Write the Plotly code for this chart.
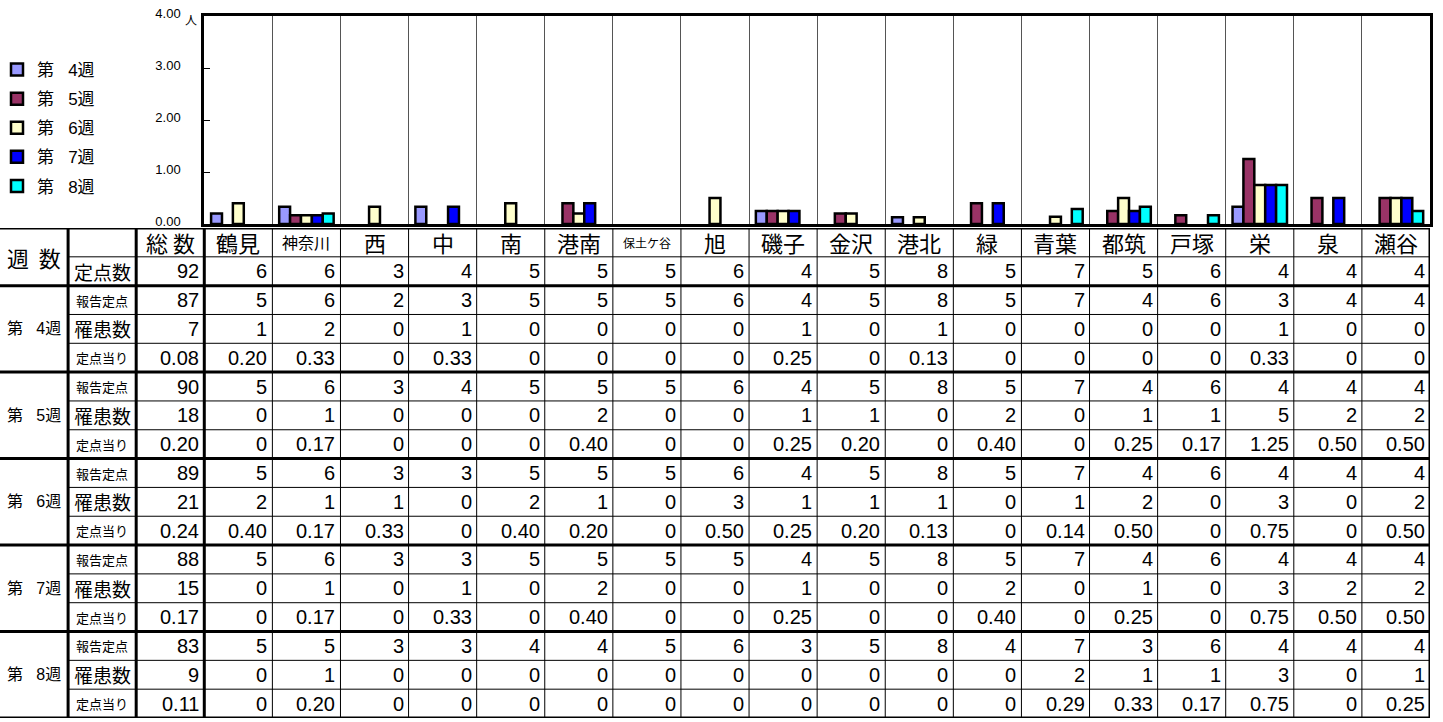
import plotly.graph_objects as go

# ---------------- data ----------------
districts = ["鶴見", "神奈川", "西", "中", "南", "港南", "保土ケ谷", "旭", "磯子",
             "金沢", "港北", "緑", "青葉", "都筑", "戸塚", "栄", "泉", "瀬谷"]
week_numbers = ["4", "5", "6", "7", "8"]
week_colors = ["#9999FF", "#993366", "#FFFFCC", "#0000FF", "#00FFFF"]

total_sites = 92
sites = [6, 6, 3, 4, 5, 5, 5, 6, 4, 5, 8, 5, 7, 5, 6, 4, 4, 4]

reported_total = [87, 90, 89, 88, 83]
reported_w4 = [5, 6, 2, 3, 5, 5, 5, 6, 4, 5, 8, 5, 7, 4, 6, 3, 4, 4]
reported_w5 = [5, 6, 3, 4, 5, 5, 5, 6, 4, 5, 8, 5, 7, 4, 6, 4, 4, 4]
reported_w6 = [5, 6, 3, 3, 5, 5, 5, 6, 4, 5, 8, 5, 7, 4, 6, 4, 4, 4]
reported_w7 = [5, 6, 3, 3, 5, 5, 5, 5, 4, 5, 8, 5, 7, 4, 6, 4, 4, 4]
reported_w8 = [5, 5, 3, 3, 4, 4, 5, 6, 3, 5, 8, 4, 7, 3, 6, 4, 4, 4]

cases_total = [7, 18, 21, 15, 9]
cases_w4 = [1, 2, 0, 1, 0, 0, 0, 0, 1, 0, 1, 0, 0, 0, 0, 1, 0, 0]
cases_w5 = [0, 1, 0, 0, 0, 2, 0, 0, 1, 1, 0, 2, 0, 1, 1, 5, 2, 2]
cases_w6 = [2, 1, 1, 0, 2, 1, 0, 3, 1, 1, 1, 0, 1, 2, 0, 3, 0, 2]
cases_w7 = [0, 1, 0, 1, 0, 2, 0, 0, 1, 0, 0, 2, 0, 1, 0, 3, 2, 2]
cases_w8 = [0, 1, 0, 0, 0, 0, 0, 0, 0, 0, 0, 0, 2, 1, 1, 3, 0, 1]

rate_total = [0.08, 0.20, 0.24, 0.17, 0.11]
rate_w4 = [0.20, 0.33, 0, 0.33, 0, 0, 0, 0, 0.25, 0, 0.13, 0, 0, 0, 0, 0.33, 0, 0]
rate_w5 = [0, 0.17, 0, 0, 0, 0.40, 0, 0, 0.25, 0.20, 0, 0.40, 0, 0.25, 0.17, 1.25, 0.50, 0.50]
rate_w6 = [0.40, 0.17, 0.33, 0, 0.40, 0.20, 0, 0.50, 0.25, 0.20, 0.13, 0, 0.14, 0.50, 0, 0.75, 0, 0.50]
rate_w7 = [0, 0.17, 0, 0.33, 0, 0.40, 0, 0, 0.25, 0, 0, 0.40, 0, 0.25, 0, 0.75, 0.50, 0.50]
rate_w8 = [0, 0.20, 0, 0, 0, 0, 0, 0, 0, 0, 0, 0, 0.29, 0.33, 0.17, 0.75, 0, 0.25]

y_ticks = [0, 1, 2, 3, 4]
y_unit = "人"

reported = [reported_w4, reported_w5, reported_w6, reported_w7, reported_w8]
cases = [cases_w4, cases_w5, cases_w6, cases_w7, cases_w8]
rates = [rate_w4, rate_w5, rate_w6, rate_w7, rate_w8]

# ---------------- geometry ----------------
W, H = 1443, 722
TABLE_RIGHT = 1430
N_COLS = len(districts) + 3
COL_W = TABLE_RIGHT / N_COLS
TABLE_TOP, TABLE_BOTTOM = 228, 718
PLOT_TOP, PLOT_BOTTOM = 16, 224
N_ROWS = 2 + 3 * len(week_numbers)

JP = "Noto Sans CJK JP, sans-serif"
NUM = "Liberation Sans, Arial, Noto Sans CJK JP, sans-serif"
NB = "\u00a0"

fig = go.Figure()
for i in range(len(week_numbers)):
    fig.add_trace(go.Bar(
        x=list(range(len(districts))),
        y=[v if v else None for v in rates[i]],
        name="第" + NB * 3 + week_numbers[i] + "週",
        legendgroup="w%d" % i,
        marker=dict(color=week_colors[i], line=dict(color="black", width=2.5)),
        hoverinfo="skip",
    ))

shapes = []
annotations = []

def hline(r, x0, width):
    shapes.append(dict(type="line", xref="x2", yref="y2", x0=x0, x1=len(districts) - 0.5,
                       y0=r, y1=r, line=dict(color="black", width=width), layer="above"))

def vline(c, width):
    shapes.append(dict(type="line", xref="x2", yref="y2", x0=c, x1=c, y0=0, y1=N_ROWS,
                       line=dict(color="black", width=width), layer="above"))

thick_rows = {0, 2} | {2 + 3 * k for k in range(1, len(week_numbers) + 1)}
for r in range(N_ROWS + 1):
    if r in thick_rows:
        hline(r, -3.5, 3)
    else:
        hline(r, -2.5, 1)
for c in range(-2, len(districts) + 1):
    vline(c - 0.5, 3 if c <= 0 or c == len(districts) else 1)

def text(x, y, s, size, family, anchor="center", xshift=0, yshift=0):
    annotations.append(dict(xref="x2", yref="y2", x=x, y=y, text=s, showarrow=False,
                            xanchor=anchor, yanchor="middle", xshift=xshift, yshift=yshift,
                            font=dict(family=family, size=size, color="black")))

def fmt_rate(v):
    return "0" if v == 0 else "%.2f" % v

NS = 20  # number font size
# header
text(-3, 1, "週" + NB * 2 + "数", 22, JP)
text(-1, 0.5, "総" + NB + "数", 22, JP)
hdr_sizes = {"神奈川": 16, "保土ケ谷": 12}
for k, d in enumerate(districts):
    text(k, 0.5, d, hdr_sizes.get(d, 22), JP)
text(-2, 1.5, "定点数", 19, JP)
text(-0.5, 1.5, str(total_sites), NS, NUM, "right", -3)
for k, v in enumerate(sites):
    text(k + 0.5, 1.5, str(v), NS, NUM, "right", -3)

for i in range(len(week_numbers)):
    base = 2 + 3 * i
    text(-3, base + 1.5, "第" + NB * 3 + week_numbers[i] + "週", 16, NUM)
    text(-2, base + 0.5, "報告定点", 13, JP)
    text(-2, base + 1.5, "罹患数", 19, JP)
    text(-2, base + 2.5, "定点当り", 13, JP)
    text(-0.5, base + 0.5, str(reported_total[i]), NS, NUM, "right", -3)
    text(-0.5, base + 1.5, str(cases_total[i]), NS, NUM, "right", -3)
    text(-0.5, base + 2.5, fmt_rate(rate_total[i]), NS, NUM, "right", -3)
    for k in range(len(districts)):
        text(k + 0.5, base + 0.5, str(reported[i][k]), NS, NUM, "right", -3)
        text(k + 0.5, base + 1.5, str(cases[i][k]), NS, NUM, "right", -3)
        text(k + 0.5, base + 2.5, fmt_rate(rates[i][k]), NS, NUM, "right", -3)

# unit label next to top tick
annotations.append(dict(xref="paper", yref="y", x=(3 * COL_W - 13) / W, y=y_ticks[-1],
                        text=y_unit, showarrow=False, xanchor="center", yanchor="middle",
                        yshift=-3, font=dict(family=JP, size=12, color="black")))

fig.update_layout(
    template="none",
    width=W, height=H,
    margin=dict(l=0, r=0, t=0, b=0, autoexpand=False),
    paper_bgcolor="white", plot_bgcolor="white",
    barmode="group", bargap=0.2, bargroupgap=0,
    showlegend=True,
    legend=dict(x=-3 / W, y=1 - 52 / H, xanchor="left", yanchor="top",
                font=dict(family=NUM, size=17, color="black"),
                traceorder="grouped", tracegroupgap=4, bgcolor="rgba(0,0,0,0)",
                borderwidth=0),
    xaxis=dict(domain=[3 * COL_W / W, TABLE_RIGHT / W], range=[-0.5, len(districts) - 0.5],
               tickvals=[k + 0.5 for k in range(len(districts) - 1)], showticklabels=False,
               ticks="", showgrid=True, gridcolor="#555555", gridwidth=1,
               showline=True, linecolor="black", linewidth=3, mirror=True, zeroline=False,
               fixedrange=True, anchor="y", automargin=False),
    yaxis=dict(domain=[(H - PLOT_BOTTOM) / H, (H - PLOT_TOP) / H], range=[0, 4],
               tickvals=y_ticks, tickformat=".2f", ticks="inside", ticklen=6, tickwidth=1,
               tickcolor="black", showline=True, linecolor="black", linewidth=3, mirror=True,
               showgrid=False, zeroline=False, ticklabelstandoff=18, ticklabelshift=-3,
               tickfont=dict(family=NUM, size=13, color="black"), fixedrange=True,
               anchor="x", automargin=False),
    xaxis2=dict(domain=[0, TABLE_RIGHT / W], range=[-3.5, len(districts) - 0.5],
                visible=False, fixedrange=True, anchor="y2", automargin=False),
    yaxis2=dict(domain=[(H - TABLE_BOTTOM) / H, (H - TABLE_TOP) / H], range=[N_ROWS, 0],
                visible=False, fixedrange=True, anchor="x2", automargin=False),
    shapes=shapes,
    annotations=annotations,
)

fig.write_html(
    "out.html",
    config={"displayModeBar": False},
    post_script="document.documentElement.style.overflow='hidden';"
                "document.body.style.margin='0';document.body.style.overflow='hidden';",
)
